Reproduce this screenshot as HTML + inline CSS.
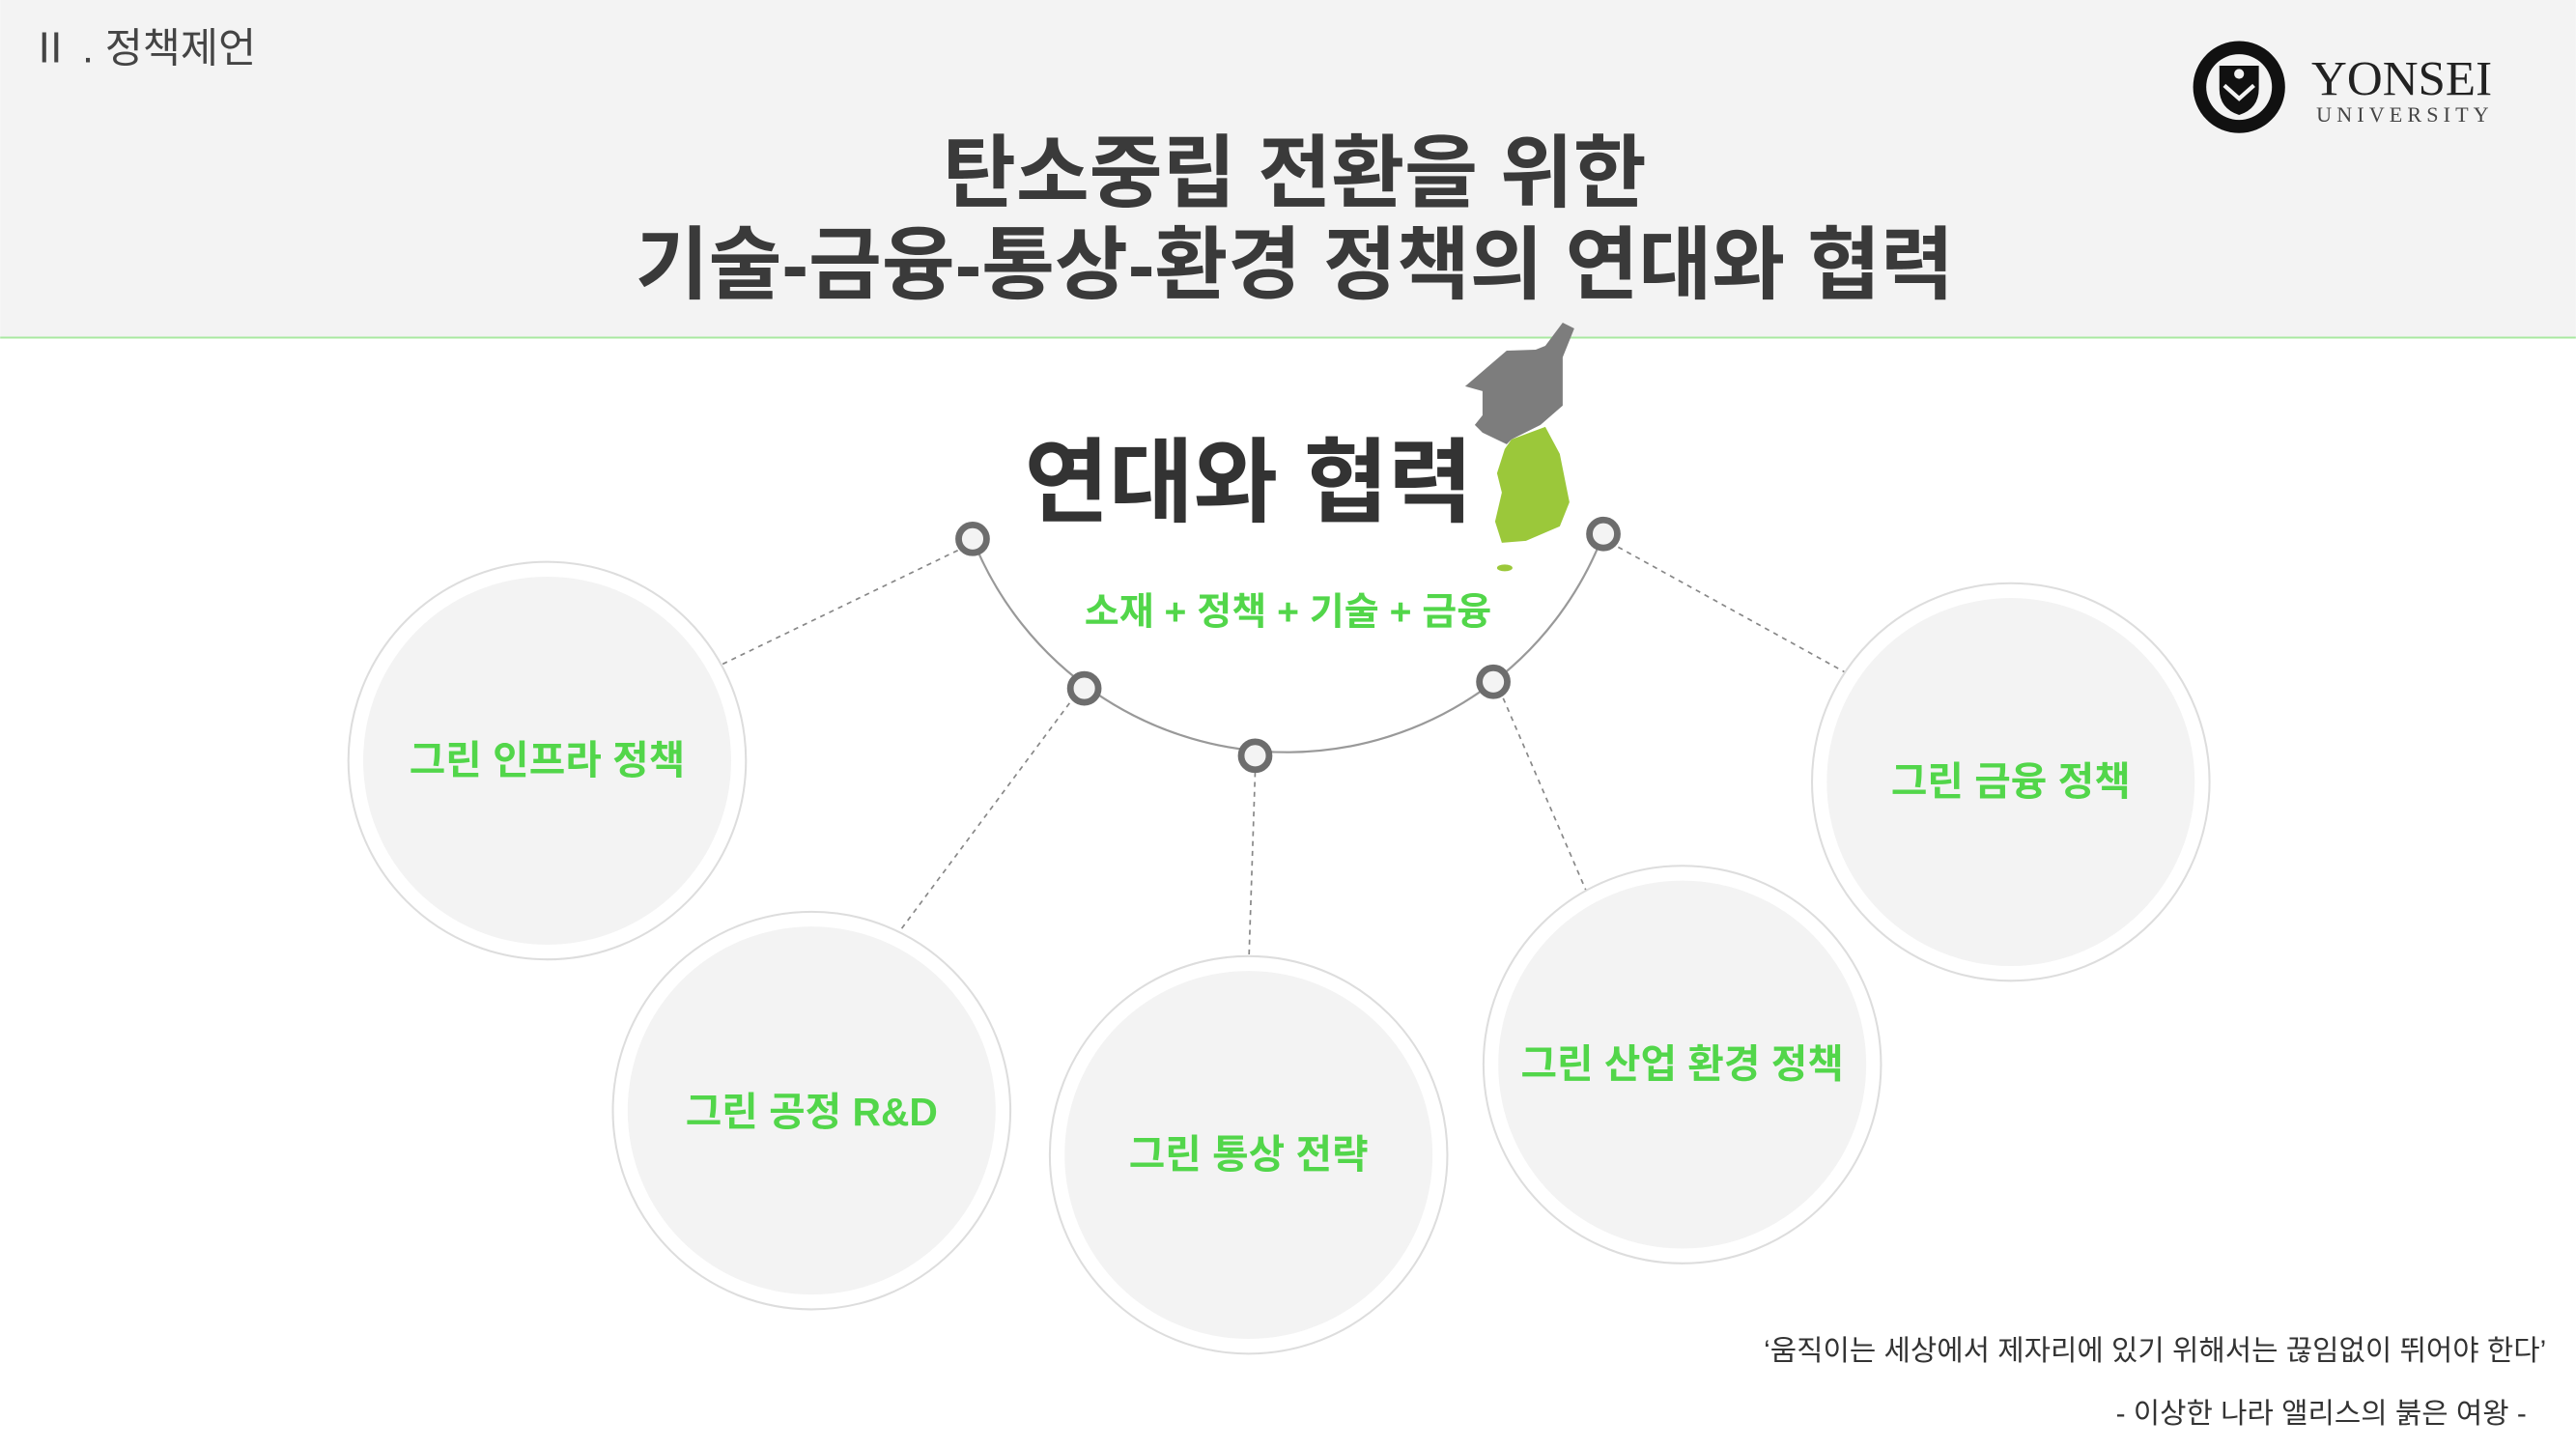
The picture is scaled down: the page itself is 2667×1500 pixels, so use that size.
<!DOCTYPE html>
<html><head><meta charset="utf-8"><style>
html,body{margin:0;padding:0;background:#fff;}
svg{display:block;}
text{font-family:"Liberation Sans","Noto Sans CJK KR",sans-serif;}
</style></head><body>
<svg width="2667" height="1500" viewBox="0 0 1568 882" xmlns="http://www.w3.org/2000/svg">
<rect x="0" y="0" width="1568" height="205" fill="#f3f3f3"/>
<line x1="0" y1="205.5" x2="1568" y2="205.5" stroke="#a8e8a0" stroke-width="1.2"/>
<text x="18" y="38" font-size="25" fill="#444">Ⅱ . 정책제언</text>
<text x="788" y="122" font-size="48.5" font-weight="bold" fill="#3a3a3a" text-anchor="middle">탄소중립 전환을 위한</text>
<text x="788" y="178" font-size="48.5" font-weight="bold" fill="#3a3a3a" text-anchor="middle">기술-금융-통상-환경 정책의 연대와 협력</text>
<!-- logo -->
<circle cx="1363" cy="53" r="28" fill="#111"/>
<circle cx="1363" cy="53" r="20" fill="#f3f3f3"/>
<path d="M1351 40 h24 v14 q0 12 -12 16 q-12 -4 -12 -16 z" fill="#111"/>
<path d="M1354 52 l9 8 l9 -8" stroke="#f3f3f3" stroke-width="2.5" fill="none"/>
<circle cx="1363" cy="45" r="3" fill="#f3f3f3"/>
<text x="1462" y="58" font-size="30" fill="#222" text-anchor="middle" style="font-family:'Liberation Serif',serif">YONSEI</text>
<text x="1464" y="74" font-size="13" fill="#444" text-anchor="middle" letter-spacing="3" style="font-family:'Liberation Serif',serif">UNIVERSITY</text>
<!-- map -->
<g transform="scale(0.5879)">
<path d="M1517 400 L1560 363 L1590 362 L1600 358 L1618 334 L1630 340 L1618 370 L1618 420 L1595 440 L1565 455 L1560 460 L1535 448 L1527 440 L1535 430 L1535 405 Z" fill="#7d7d7d"/>
<path d="M1565 455 L1600 442 L1615 470 L1625 520 L1615 545 L1580 560 L1555 562 L1548 540 L1555 510 L1550 490 L1558 465 Z" fill="#9bc83a"/>
<ellipse cx="1558" cy="588" rx="8" ry="3.5" fill="#9bc83a"/>
</g>
<text x="760" y="313" font-size="56" font-weight="bold" fill="#333" text-anchor="middle">연대와 협력</text>
<!-- arc -->
<path d="M592 328 A206 206 0 0 0 976 325" fill="none" stroke="#999" stroke-width="1.3"/>
<text x="784" y="380" font-size="23" font-weight="bold" fill="#52d64a" text-anchor="middle">소재 + 정책 + 기술 + 금융</text>
<!-- dashed -->
<g stroke="#888" stroke-width="1" stroke-dasharray="3,3">
<line x1="583" y1="335" x2="432" y2="408"/>
<line x1="651" y1="428" x2="543" y2="573"/>
<line x1="764" y1="470" x2="760" y2="590"/>
<line x1="915" y1="425" x2="968" y2="548"/>
<line x1="985" y1="333" x2="1130" y2="413"/>
</g>
<g fill="#f3f3f3" stroke="#6d6d6d" stroke-width="4">
<circle cx="592" cy="328" r="8.5"/>
<circle cx="660" cy="419" r="8.5"/>
<circle cx="764" cy="460" r="8.5"/>
<circle cx="909" cy="415" r="8.5"/>
<circle cx="976" cy="325" r="8.5"/>
</g>
<!-- big circles -->
<g>
<circle cx="333" cy="463" r="121" fill="#fff" stroke="#ddd" stroke-width="1.2"/><circle cx="333" cy="463" r="112" fill="#f3f3f3"/>
<circle cx="494" cy="676" r="121" fill="#fff" stroke="#ddd" stroke-width="1.2"/><circle cx="494" cy="676" r="112" fill="#f3f3f3"/>
<circle cx="760" cy="703" r="121" fill="#fff" stroke="#ddd" stroke-width="1.2"/><circle cx="760" cy="703" r="112" fill="#f3f3f3"/>
<circle cx="1024" cy="648" r="121" fill="#fff" stroke="#ddd" stroke-width="1.2"/><circle cx="1024" cy="648" r="112" fill="#f3f3f3"/>
<circle cx="1224" cy="476" r="121" fill="#fff" stroke="#ddd" stroke-width="1.2"/><circle cx="1224" cy="476" r="112" fill="#f3f3f3"/>
</g>
<g font-size="24" font-weight="bold" fill="#52d64a" text-anchor="middle">
<text x="333" y="471">그린 인프라 정책</text>
<text x="494" y="685">그린 공정 R&amp;D</text>
<text x="760" y="711">그린 통상 전략</text>
<text x="1024" y="656">그린 산업 환경 정책</text>
<text x="1224" y="484">그린 금융 정책</text>
</g>
<text x="1550" y="828" font-size="17.5" fill="#333" text-anchor="end">‘움직이는 세상에서 제자리에 있기 위해서는 끊임없이 뛰어야 한다’</text>
<text x="1538" y="866" font-size="17.5" fill="#333" text-anchor="end">- 이상한 나라 앨리스의 붉은 여왕 -</text>
</svg>
</body></html>
